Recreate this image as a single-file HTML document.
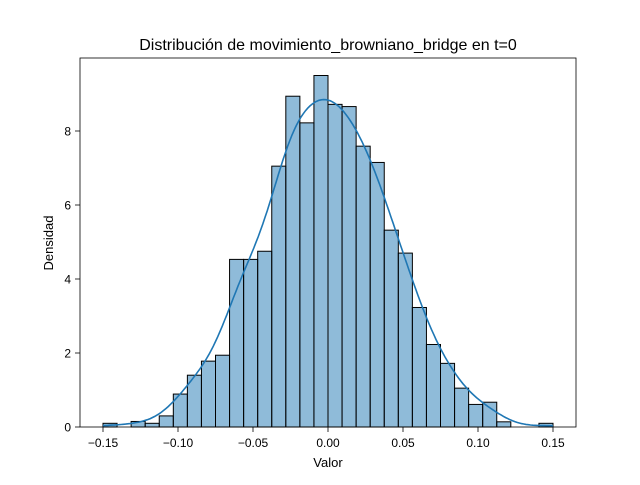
<!DOCTYPE html>
<html><head><meta charset="utf-8"><style>
body{margin:0;background:#fff;}
svg text{font-family:"Liberation Sans","DejaVu Sans",sans-serif;fill:#000;}
</style></head><body>
<svg id="chart" width="640" height="480" xmlns="http://www.w3.org/2000/svg">
<rect width="640" height="480" fill="#fff"/>
<g id="bars"></g>
<path id="kde" fill="none" stroke="#1f77b4" stroke-width="1.6"/>
<rect x="80" y="58" width="496" height="369" fill="none" stroke="#000" stroke-width="0.8"/>
<g id="xticks"></g>
<g id="yticks"></g>
<text x="328" y="50" font-size="16" text-anchor="middle">Distribución de movimiento_browniano_bridge en t=0</text>
<text x="328" y="467" font-size="13" text-anchor="middle">Valor</text>
<text x="53" y="243" font-size="13" text-anchor="middle" transform="rotate(-90 53 243)">Densidad</text>
</svg>
<script>
const binStart = -0.15;
const binEnd = 0.15;
const densities = [0.1,0,0.15,0.1,0.3,0.89,1.4,1.78,1.94,4.53,4.53,4.75,7.05,8.94,8.22,9.5,8.72,8.66,7.59,7.15,5.32,4.70,3.23,2.23,1.72,1.05,0.61,0.67,0.14,0,0,0.1];
const xTicks = [-0.15,-0.10,-0.05,0.00,0.05,0.10,0.15];
const xTickLabels = ["−0.15","−0.10","−0.05","0.00","0.05","0.10","0.15"];
const yTicks = [0,2,4,6,8];

const NS="http://www.w3.org/2000/svg";
function sx(v){return 328+(v-0)*1500;}
function sy(v){return 427-v*37;}
const bw=(binEnd-binStart)/densities.length;
const bars=document.getElementById('bars');
densities.forEach((d,i)=>{
  if(d<=0) return;
  const r=document.createElementNS(NS,'rect');
  const x0=sx(binStart+i*bw), x1=sx(binStart+(i+1)*bw);
  r.setAttribute('x',x0);r.setAttribute('y',sy(d));
  r.setAttribute('width',x1-x0);r.setAttribute('height',sy(0)-sy(d));
  r.setAttribute('fill','rgba(31,119,180,0.5)');r.setAttribute('stroke','#000');r.setAttribute('stroke-width','1');
  
  
  bars.appendChild(r);
});
// KDE from histogram
const h=0.012;let tot=0;densities.forEach(d=>tot+=d*bw);
let p="";
for(let k=0;k<=200;k++){
  const x=-0.15+0.3*k/200;let s=0;
  densities.forEach((d,i)=>{const c=binStart+(i+0.5)*bw;const z=(x-c)/h;s+=d*bw*Math.exp(-0.5*z*z);});
  s=s/(tot*h*Math.sqrt(2*Math.PI));
  p+=(k?"L":"M")+sx(x).toFixed(1)+","+sy(s).toFixed(1);
}
document.getElementById('kde').setAttribute('d',p);
const xg=document.getElementById('xticks');
xTicks.forEach((t,i)=>{
  const l=document.createElementNS(NS,'line');
  l.setAttribute('x1',sx(t));l.setAttribute('x2',sx(t));l.setAttribute('y1',427);l.setAttribute('y2',432);
  l.setAttribute('stroke','#000');l.setAttribute('stroke-width','0.8');
  
  
  xg.appendChild(l);
  const tx=document.createElementNS(NS,'text');
  tx.setAttribute('x',sx(t));tx.setAttribute('y',447);tx.setAttribute('font-size','12');tx.setAttribute('text-anchor','middle');
  tx.textContent=xTickLabels[i];
  
  
  xg.appendChild(tx);
});
const yg=document.getElementById('yticks');
yTicks.forEach(t=>{
  const l=document.createElementNS(NS,'line');
  l.setAttribute('x1',75);l.setAttribute('x2',80);l.setAttribute('y1',sy(t));l.setAttribute('y2',sy(t));
  l.setAttribute('stroke','#000');l.setAttribute('stroke-width','0.8');
  
  
  yg.appendChild(l);
  const tx=document.createElementNS(NS,'text');
  tx.setAttribute('x',71);tx.setAttribute('y',sy(t)+4.5);tx.setAttribute('font-size','12');tx.setAttribute('text-anchor','end');
  tx.textContent=t;
  
  
  yg.appendChild(tx);
});
</script>
</body></html>
